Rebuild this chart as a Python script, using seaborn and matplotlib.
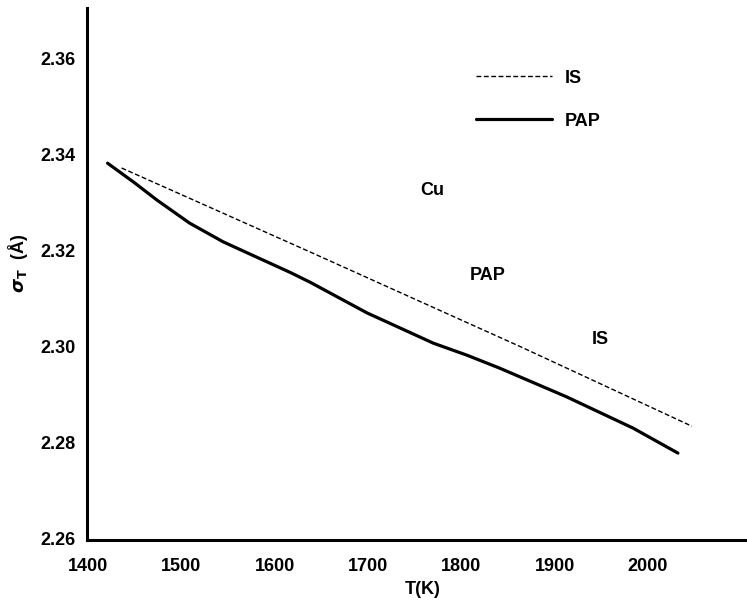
import matplotlib
matplotlib.use("Agg")
import matplotlib.pyplot as plt
import seaborn as sns
import pandas as pd

# Data
pap_T = [1421, 1450, 1474, 1509, 1545, 1581, 1616, 1638, 1699, 1734, 1770, 1806,
         1841, 1913, 1984, 2032]
pap_sigma = [2.3381, 2.3340, 2.3304, 2.3256, 2.3217, 2.3185, 2.3154, 2.3133,
             2.3069, 2.3038, 2.3006, 2.2981, 2.2954, 2.2894, 2.2829, 2.2777]
is_T = [1436, 1638, 1863, 2047]
is_sigma = [2.3371, 2.3196, 2.2999, 2.2833]
x_ticks = [1400, 1500, 1600, 1700, 1800, 1900, 2000]
y_ticks = [2.26, 2.28, 2.30, 2.32, 2.34, 2.36]
y_ticklabels = ["2.26", "2.28", "2.30", "2.32", "2.34", "2.36"]

df = pd.concat([
    pd.DataFrame({"T": is_T, "sigma": is_sigma, "model": "IS"}),
    pd.DataFrame({"T": pap_T, "sigma": pap_sigma, "model": "PAP"}),
])

sns.set_theme(style="ticks")
plt.rcParams['font.family'] = ['Liberation Sans', 'DejaVu Sans']
plt.rcParams['font.weight'] = 'bold'
plt.rcParams['mathtext.fontset'] = 'dejavusans'
plt.rcParams['text.color'] = 'black'
plt.rcParams['xtick.color'] = 'black'
plt.rcParams['ytick.color'] = 'black'
plt.rcParams['axes.labelcolor'] = 'black'

fig = plt.figure(figsize=(7.47, 6.03), dpi=100)
ax = fig.add_axes([0.1165, 0.1045, 0.8835, 0.882])

sns.lineplot(data=df, x="T", y="sigma", hue="model", style="model",
             palette={"IS": "black", "PAP": "black"},
             dashes={"IS": (3.5, 1.8), "PAP": ""},
             sort=True, estimator=None, ax=ax, legend=True)
lines = ax.get_lines()
lines[0].set_linewidth(1.0)
lines[1].set_linewidth(2.3)
lines[1].set_solid_joinstyle('round')

ax.set_xlim(1399, 2106)
ax.set_ylim(2.2596, 2.3704)
ax.set_xticks(x_ticks)
ax.set_xticklabels([str(t) for t in x_ticks], fontsize=13, fontweight='bold')
ax.set_yticks(y_ticks)
ax.set_yticklabels(y_ticklabels, fontsize=13, fontweight='bold')
ax.tick_params(axis='y', length=0, pad=8)
ax.tick_params(axis='x', length=0, pad=13)

for s in ["top", "right"]:
    ax.spines[s].set_visible(False)
for s in ["left", "bottom"]:
    ax.spines[s].set_linewidth(2.2)
    ax.spines[s].set_color("black")

ax.set_xlabel("T(K)", fontsize=13, fontweight='bold')
ax.xaxis.set_label_coords(0.508, -0.077)
ax.set_ylabel(r"$\sigma_{\rm T}$  (Å)", fontsize=13, fontweight='bold')
ax.yaxis.set_label_coords(-0.086, 0.52)

leg = ax.legend(loc="upper left", bbox_to_anchor=(0.565, 0.915), frameon=False,
                handlelength=4.2, handletextpad=0.7, labelspacing=1.45,
                prop={'size': 13, 'weight': 'bold'})
for h in leg.get_lines():
    h.set_color("black")
leg.get_lines()[0].set_linewidth(1.0)
leg.get_lines()[1].set_linewidth(2.3)

ax.text(1769, 2.3325, "Cu", fontsize=13, fontweight='bold', ha='center', va='center')
ax.text(1828, 2.3148, "PAP", fontsize=13, fontweight='bold', ha='center', va='center')
ax.text(1949, 2.3013, "IS", fontsize=13, fontweight='bold', ha='center', va='center')

fig.savefig("out.png", dpi=100, facecolor="white")
